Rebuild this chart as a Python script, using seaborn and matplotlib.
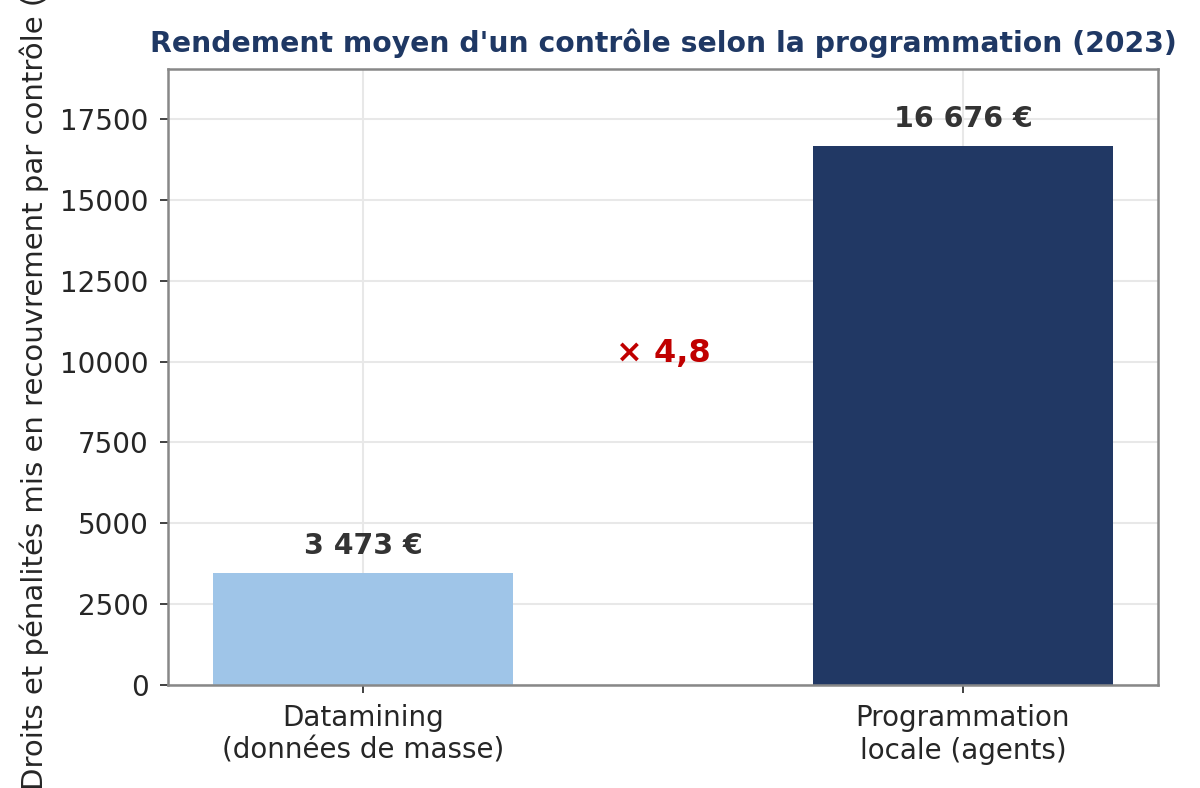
import numpy as np
import pandas as pd
import matplotlib
matplotlib.use("Agg")
import matplotlib.pyplot as plt
import seaborn as sns

categories = ["Datamining\n(données de masse)", "Programmation\nlocale (agents)"]
values = [3473, 16676]
value_labels = ["3 473 €", "16 676 €"]
bar_colors = ["#9fc5e8", "#213864"]
ratio_label = "× 4,8"

sns.set_style("whitegrid", {
    "axes.edgecolor": "#888888",
    "grid.color": "#e8e8e8",
    "xtick.bottom": True,
    "ytick.left": True,
})
plt.rcParams["font.family"] = ["DejaVu Sans"]

df = pd.DataFrame({"programmation": categories, "rendement": values})

fig = plt.figure(figsize=(12, 7.88), dpi=100)
ax = fig.add_axes([168 / 1200, 1 - 685 / 788, (1158 - 168) / 1200, (685 - 69) / 788])

sns.barplot(data=df, x="programmation", y="rendement", hue="programmation",
            palette=bar_colors, legend=False, width=0.5, linewidth=0,
            saturation=1, ax=ax)

for i, (v, lab) in enumerate(zip(values, value_labels)):
    ax.text(i, v + 400, lab, ha="center", va="bottom", fontsize=20.5,
            fontweight="bold", color="#333333")

ax.text(0.5, 10000, ratio_label, ha="center", va="baseline", fontsize=23,
        fontweight="bold", color="#c00000")

ax.set_xlim(-0.325, 1.325)
ax.set_ylim(0, 19050)
ax.set_xlabel("")
ax.set_ylabel("Droits et pénalités mis en recouvrement par contrôle (€)", fontsize=21)
ax.yaxis.set_label_coords(-0.12, 0.5)
ax.set_title("Rendement moyen d'un contrôle selon la programmation (2023)",
             fontsize=20.3, fontweight="bold", color="#1f3864", pad=12)
ax.tick_params(axis="both", labelsize=20, length=6, width=1.3, color="#333333", pad=8)
for s in ax.spines.values():
    s.set_linewidth(1.8)
ax.grid(True, linewidth=1.5)
ax.set_axisbelow(True)

fig.savefig("out.png", dpi=100)
